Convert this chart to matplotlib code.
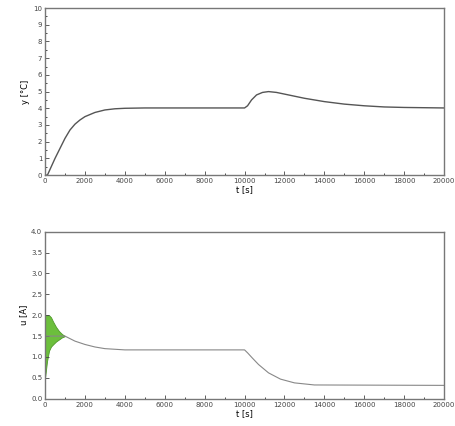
import numpy as np
import matplotlib
matplotlib.use("Agg")
import matplotlib.pyplot as plt
from matplotlib.ticker import MultipleLocator

# top: temperature response
t_y = [0, 120, 500, 1000, 1250, 1500, 1750, 2000, 2500, 3000, 3500, 4000, 5000, 10000,
       10150, 10350, 10600, 10900, 11200, 11600, 12000, 13000, 14000, 15000, 16000,
       17000, 18000, 20000]
y = [0, 0, 1.0, 2.2, 2.7, 3.05, 3.3, 3.5, 3.75, 3.9, 3.97, 4.0, 4.02, 4.02,
     4.15, 4.5, 4.8, 4.95, 5.0, 4.95, 4.85, 4.6, 4.4, 4.25, 4.15,
     4.08, 4.05, 4.02]

# bottom: control signal
t_u = [0, 1000, 1500, 2000, 2500, 3000, 4000, 10000, 10150, 10400, 10700, 11200,
       11800, 12500, 13500, 20000]
u = [1.5, 1.5, 1.38, 1.3, 1.24, 1.2, 1.17, 1.17, 1.1, 0.97, 0.82, 0.62,
     0.47, 0.38, 0.33, 0.32]

# oscillation envelope at start
t_env = [0, 100, 200, 300, 400, 550, 700, 850, 1000]
u_hi = [2.0, 2.0, 2.0, 1.95, 1.85, 1.72, 1.62, 1.55, 1.5]
u_lo = [0.5, 0.9, 1.15, 1.25, 1.3, 1.37, 1.42, 1.47, 1.5]

xticks = list(range(0, 20001, 2000))

fig = plt.figure(figsize=(4.55, 4.26), dpi=100)
ax1 = fig.add_axes([0.099, 0.589, 0.877, 0.392])
ax2 = fig.add_axes([0.099, 0.064, 0.877, 0.392])

ax1.plot(t_y, y, color="#555555", lw=1.0)
ax1.set_ylim(0, 10)
ax1.yaxis.set_major_locator(MultipleLocator(1))
ax1.yaxis.set_minor_locator(MultipleLocator(0.5))
ax1.set_ylabel("y [°C]", fontsize=6, labelpad=2)

ax2.fill_between(t_env, u_lo, u_hi, color="#6cbf3c", lw=0.6, edgecolor="#4f9a2a")
ax2.plot(t_u, u, color="#888888", lw=0.8)
ax2.set_ylim(0, 4)
ax2.yaxis.set_major_locator(MultipleLocator(0.5))
ax2.yaxis.set_major_formatter(matplotlib.ticker.FormatStrFormatter("%.1f"))
ax2.set_ylabel("u [A]", fontsize=6, labelpad=2)

for ax in (ax1, ax2):
    ax.set_xlim(0, 20000)
    ax.set_xticks(xticks)
    ax.xaxis.set_minor_locator(MultipleLocator(1000))
    ax.tick_params(labelsize=5, direction="in", length=3, width=0.6, colors="#444444", pad=2)
    ax.tick_params(which="minor", direction="in", length=1.5, width=0.5)
    ax.set_xlabel("t [s]", fontsize=6, labelpad=1)
    for s in ax.spines.values():
        s.set_color("#777777")
        s.set_linewidth(1.0)

fig.savefig("out.png", dpi=100)
